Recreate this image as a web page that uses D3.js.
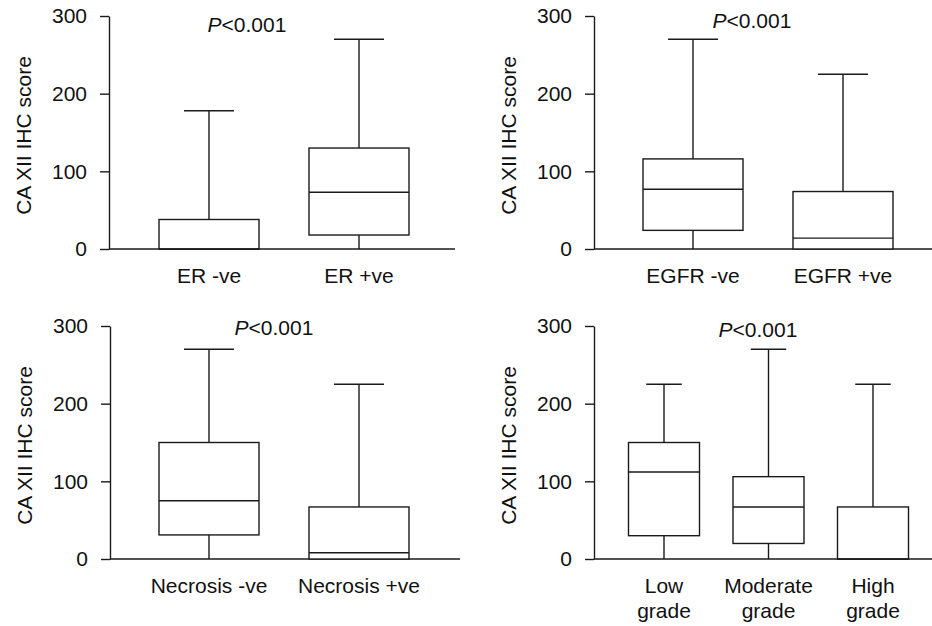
<!DOCTYPE html>
<html>
<head>
<meta charset="utf-8">
<script src="https://cdn.jsdelivr.net/npm/d3@7"></script>
<style>
  body { margin: 0; background: #fff; }
  text { font-family: "Liberation Sans", Arial, Helvetica, sans-serif; fill: #111; }
</style>
</head>
<body>
<svg></svg>
<script>
// data: box stats (min, q1, median, q3, max)
let erCats = ["ER -ve", "ER +ve"];
let erMin = [0, 0];
let erQ1 = [0, 18];
let erMed = [0, 73];
let erQ3 = [38, 130];
let erMax = [178, 270];

let egfrCats = ["EGFR -ve", "EGFR +ve"];
let egfrMin = [0, 0];
let egfrQ1 = [24, 0];
let egfrMed = [77, 14];
let egfrQ3 = [116, 74];
let egfrMax = [270, 225];

let necCats = ["Necrosis -ve", "Necrosis +ve"];
let necMin = [0, 0];
let necQ1 = [31, 0];
let necMed = [75, 8];
let necQ3 = [150, 67];
let necMax = [270, 225];

let gradeCats = [["Low", "grade"], ["Moderate", "grade"], ["High", "grade"]];
let gradeMin = [0, 0, 0];
let gradeQ1 = [30, 20, 0];
let gradeMed = [112, 67, 0];
let gradeQ3 = [150, 106, 67];
let gradeMax = [225, 270, 225];

let yTicks = [0, 100, 200, 300];
let yLabel = "CA XII IHC score";
let pLabel = "<0.001";

let width = 932;
let height = 626;
let plotHeight = 233;
let fontSize = 21;

const svg = d3.select("svg")
  .attr("width", width)
  .attr("height", height);

// layout of the four panels
let panels = [
  { cats: erCats, min: erMin, q1: erQ1, med: erMed, q3: erQ3, max: erMax,
    axisX: 109, top: 16, range: [100, 250], end: 455, boxW: 100, pX: 138, pY: 16 },
  { cats: egfrCats, min: egfrMin, q1: egfrQ1, med: egfrMed, q3: egfrQ3, max: egfrMax,
    axisX: 594, top: 16, range: [99, 249], end: 932, boxW: 100, pX: 158, pY: 12 },
  { cats: necCats, min: necMin, q1: necQ1, med: necMed, q3: necQ3, max: necMax,
    axisX: 110, top: 326, range: [99, 249], end: 460, boxW: 100, pX: 164, pY: 9 },
  { cats: gradeCats, min: gradeMin, q1: gradeQ1, med: gradeMed, q3: gradeQ3, max: gradeMax,
    axisX: 594, top: 326, range: [70, 279], end: 932, boxW: 71, pX: 164, pY: 11 }
];

const stroke = "#1a1a1a";

panels.forEach((p) => {
  const g = svg.append("g")
    .attr("transform", `translate(${p.axisX}, ${p.top})`);

  const yScale = d3.scaleLinear()
    .domain([0, 300])
    .range([plotHeight, 0]);

  const keys = p.cats.map((d, i) => i);
  const xScale = d3.scalePoint()
    .domain(keys)
    .range(p.range);

  //y axis
  const yAxis = d3.axisLeft(yScale)
    .tickValues(yTicks)
    .tickSize(9)
    .tickSizeOuter(0)
    .tickPadding(13);
  const ya = g.append("g").call(yAxis);
  ya.selectAll("path, line").attr("stroke", stroke).attr("stroke-width", 1.4);
  ya.selectAll("text")
    .attr("font-size", fontSize)
    .attr("fill", "#111")
    .style("font-family", '"Liberation Sans", Arial, sans-serif');

  //baseline
  g.append("line")
    .attr("x1", 0)
    .attr("x2", p.end - p.axisX)
    .attr("y1", yScale(0))
    .attr("y2", yScale(0))
    .attr("stroke", stroke)
    .attr("stroke-width", 1.4);

  //y label
  g.append("text")
    .attr("transform", `translate(-78, ${plotHeight / 2 + 3}) rotate(-90)`)
    .attr("text-anchor", "middle")
    .attr("font-size", fontSize)
    .text(yLabel);

  //p value
  const pt = g.append("text")
    .attr("x", p.pX)
    .attr("y", p.pY)
    .attr("text-anchor", "middle")
    .attr("font-size", fontSize);
  pt.append("tspan").attr("font-style", "italic").text("P");
  pt.append("tspan").text(pLabel);

  //boxes
  const box = g.selectAll(".box")
    .data(keys)
    .enter()
    .append("g")
    .attr("class", "box");

  box.append("line")
    .attr("x1", (i) => xScale(i))
    .attr("x2", (i) => xScale(i))
    .attr("y1", (i) => yScale(p.max[i]))
    .attr("y2", (i) => yScale(p.q3[i]))
    .attr("stroke", stroke)
    .attr("stroke-width", 1.4);
  box.append("line")
    .attr("x1", (i) => xScale(i))
    .attr("x2", (i) => xScale(i))
    .attr("y1", (i) => yScale(p.q1[i]))
    .attr("y2", (i) => yScale(p.min[i]))
    .attr("stroke", stroke)
    .attr("stroke-width", 1.4);
  box.append("line")
    .attr("x1", (i) => xScale(i) - p.boxW / 4)
    .attr("x2", (i) => xScale(i) + p.boxW / 4)
    .attr("y1", (i) => yScale(p.max[i]))
    .attr("y2", (i) => yScale(p.max[i]))
    .attr("stroke", stroke)
    .attr("stroke-width", 1.4);
  box.append("rect")
    .attr("x", (i) => xScale(i) - p.boxW / 2)
    .attr("width", p.boxW)
    .attr("y", (i) => yScale(p.q3[i]))
    .attr("height", (i) => yScale(p.q1[i]) - yScale(p.q3[i]))
    .attr("fill", "#fff")
    .attr("stroke", stroke)
    .attr("stroke-width", 1.4);
  box.append("line")
    .attr("x1", (i) => xScale(i) - p.boxW / 2)
    .attr("x2", (i) => xScale(i) + p.boxW / 2)
    .attr("y1", (i) => yScale(p.med[i]))
    .attr("y2", (i) => yScale(p.med[i]))
    .attr("stroke", stroke)
    .attr("stroke-width", 1.4);

  //category labels
  const lbl = box.append("text")
    .attr("text-anchor", "middle")
    .attr("font-size", fontSize)
    .attr("y", plotHeight + 34);
  lbl.selectAll("tspan")
    .data((i) => [].concat(p.cats[i]).map((t) => ({ t: t, i: i })))
    .enter()
    .append("tspan")
    .attr("x", (d) => xScale(d.i))
    .attr("dy", (d, j) => j === 0 ? 0 : 25)
    .text((d) => d.t);
});
</script>
</body>
</html>
